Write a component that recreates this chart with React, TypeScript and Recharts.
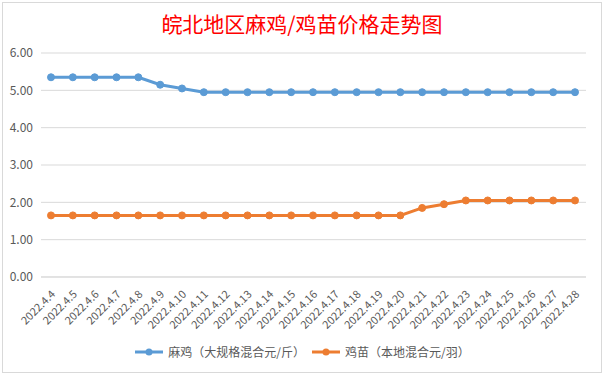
import { LineChart, Line, XAxis, YAxis, CartesianGrid } from 'recharts';

const dates = [
  '2022.4.4', '2022.4.5', '2022.4.6', '2022.4.7', '2022.4.8', '2022.4.9', '2022.4.10',
  '2022.4.11', '2022.4.12', '2022.4.13', '2022.4.14', '2022.4.15', '2022.4.16', '2022.4.17',
  '2022.4.18', '2022.4.19', '2022.4.20', '2022.4.21', '2022.4.22', '2022.4.23', '2022.4.24',
  '2022.4.25', '2022.4.26', '2022.4.27', '2022.4.28',
];

// 麻鸡（大规格混合元/斤）
const majiPrices = [
  5.35, 5.35, 5.35, 5.35, 5.35, 5.15, 5.05,
  4.95, 4.95, 4.95, 4.95, 4.95, 4.95, 4.95,
  4.95, 4.95, 4.95, 4.95, 4.95, 4.95, 4.95,
  4.95, 4.95, 4.95, 4.95,
];

// 鸡苗（本地混合元/羽）
const jimiaoPrices = [
  1.65, 1.65, 1.65, 1.65, 1.65, 1.65, 1.65,
  1.65, 1.65, 1.65, 1.65, 1.65, 1.65, 1.65,
  1.65, 1.65, 1.65, 1.85, 1.95, 2.05, 2.05,
  2.05, 2.05, 2.05, 2.05,
];

const yTicks = [0, 1, 2, 3, 4, 5, 6];

const seriesNames = ['麻鸡（大规格混合元/斤）', '鸡苗（本地混合元/羽）'];
const colors = ['#5B9BD5', '#ED7D31'];

const data = dates.map((d, i) => ({ date: d, maji: majiPrices[i], jimiao: jimiaoPrices[i] }));

const font = '"Noto Sans CJK SC", "Noto Sans", sans-serif';

function DateTick({ x, y, payload }: any) {
  return (
    <g transform={`translate(${x + 5},${y + 10})`}>
      <text
        textAnchor="end"
        transform="rotate(-45)"
        fill="#595959"
        fontSize={11}
        fontFamily={font}
      >
        {payload.value}
      </text>
    </g>
  );
}

export default function App() {
  return (
    <div style={{ position: 'absolute', left: 0, top: 0, width: 604, height: 375, background: '#fff', fontFamily: font }}>
      <div
        style={{
          position: 'absolute', left: 2, top: 2, width: 598, height: 369,
          border: '1px solid #d9d9d9', boxSizing: 'content-box',
        }}
      />
      <div
        style={{
          position: 'absolute', left: 0, top: 9, width: 604, textAlign: 'center',
          color: '#ff0000', fontSize: 21, lineHeight: '28px',
        }}
      >
        皖北地区麻鸡/鸡苗价格走势图
      </div>
      <div style={{ position: 'absolute', left: 0, top: 0 }}>
        <LineChart width={604} height={375} data={data} margin={{ top: 53, right: 18, bottom: 38, left: 0 }}>
          <CartesianGrid vertical={false} stroke="#d9d9d9" />
          <XAxis
            dataKey="date"
            interval={0}
            height={60}
            tick={<DateTick />}
            tickLine={false}
            axisLine={{ stroke: '#d9d9d9' }}
            padding={{ left: 10, right: 11 }}
          />
          <YAxis
            width={41}
            domain={[0, 6]}
            ticks={yTicks}
            tickFormatter={(v: number) => v.toFixed(2)}
            tick={{ fill: '#595959', fontSize: 12, fontFamily: font }}
            tickLine={false}
            axisLine={false}
          />
          <Line
            dataKey="maji"
            name={seriesNames[0]}
            stroke={colors[0]}
            strokeWidth={3}
            dot={{ r: 3.5, fill: colors[0], stroke: colors[0], strokeWidth: 1 }}
            isAnimationActive={false}
          />
          <Line
            dataKey="jimiao"
            name={seriesNames[1]}
            stroke={colors[1]}
            strokeWidth={3}
            dot={{ r: 3.5, fill: colors[1], stroke: colors[1], strokeWidth: 1 }}
            isAnimationActive={false}
          />
        </LineChart>
      </div>
      <div
        style={{
          position: 'absolute', left: 0, top: 343, width: 604, display: 'flex',
          justifyContent: 'center', alignItems: 'center', gap: 6,
          color: '#595959', fontSize: 12,
        }}
      >
        {seriesNames.map((name, i) => (
          <div key={name} style={{ display: 'flex', alignItems: 'center' }}>
            <svg width={30} height={16} style={{ marginRight: 4 }}>
              <line x1={1} y1={8} x2={29} y2={8} stroke={colors[i]} strokeWidth={3} />
              <circle cx={15} cy={8} r={3.5} fill={colors[i]} />
            </svg>
            <span>{name}</span>
          </div>
        ))}
      </div>
    </div>
  );
}
